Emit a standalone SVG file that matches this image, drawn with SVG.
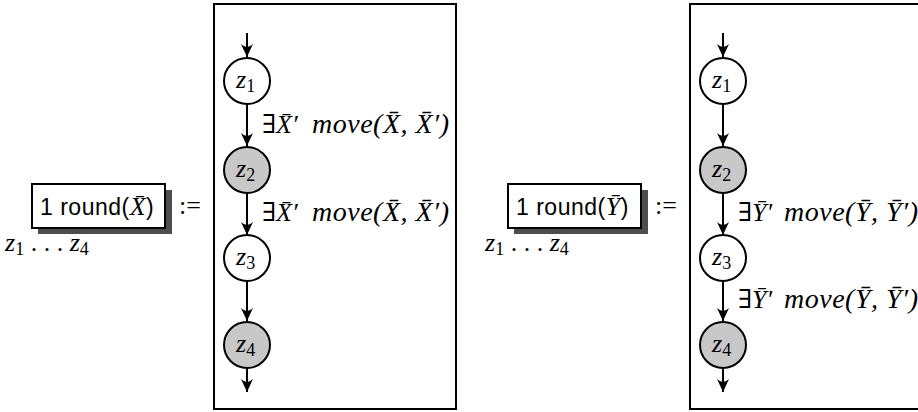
<svg xmlns="http://www.w3.org/2000/svg" width="918" height="412" viewBox="0 0 918 412">
<style>
.frame{fill:#fff;stroke:#000;stroke-width:2}
.nw{fill:#fff;stroke:#000;stroke-width:2}
.ng{fill:#c8c8c8;stroke:#000;stroke-width:2}
.e{stroke:#000;stroke-width:2;fill:none;marker-end:url(#ah)}
.m{font-family:"Liberation Serif","DejaVu Serif",serif;font-style:italic;font-size:26px}
.mv{font-size:28px;letter-spacing:0.5px}
.r{font-family:"Liberation Serif","DejaVu Serif",serif;font-style:normal}
.sub{font-family:"Liberation Serif",serif;font-style:normal;font-size:18px}
.sans{font-family:"Liberation Sans","DejaVu Sans",sans-serif;font-size:23px;letter-spacing:0.5px}
.shadow{fill:#4d4d4d}
.lbox{fill:#fff;stroke:#000;stroke-width:2}
</style>
<defs>
<marker id="ah" viewBox="-14 -7 15 14" refX="0" refY="0" markerWidth="15" markerHeight="14" markerUnits="userSpaceOnUse" orient="auto">
<path d="M0,0 L-13,-6 Q-7,0 -13,6 Z" fill="#000"/>
</marker>
</defs>

<g id="frame-left"><rect class="frame" x="214" y="4" width="242" height="405"/></g>
<g id="frame-right"><rect class="frame" x="690" y="4" width="240" height="405"/></g>

<g id="def-left">
<rect class="shadow" x="38" y="190" width="134" height="44"/>
<rect class="lbox" x="32" y="184" width="133" height="44"/>
<text class="sans" x="40" y="215">1 round(<tspan class="m">X̄</tspan>)</text>
<text class="r" x="179" y="214" font-size="26">:=</text>
<text class="m" x="5" y="251">z<tspan class="sub" dy="4">1</tspan><tspan class="r" dy="-4"> . . . </tspan>z<tspan class="sub" dy="4">4</tspan></text>
</g>
<g id="def-right">
<rect class="shadow" x="514" y="190" width="134" height="44"/>
<rect class="lbox" x="508" y="184" width="133" height="44"/>
<text class="sans" x="516" y="215">1 round(<tspan class="m">Ȳ</tspan>)</text>
<text class="r" x="655" y="214" font-size="26">:=</text>
<text class="m" x="485" y="251">z<tspan class="sub" dy="4">1</tspan><tspan class="r" dy="-4"> . . . </tspan>z<tspan class="sub" dy="4">4</tspan></text>
</g>

<g id="connectors">
<line class="e" x1="247" y1="33" x2="247" y2="57"/>
<line class="e" x1="247" y1="104" x2="247" y2="146"/>
<line class="e" x1="247" y1="194" x2="247" y2="235"/>
<line class="e" x1="247" y1="282" x2="247" y2="321"/>
<line class="e" x1="247" y1="369" x2="247" y2="392"/>
<line class="e" x1="723" y1="33" x2="723" y2="57"/>
<line class="e" x1="723" y1="104" x2="723" y2="146"/>
<line class="e" x1="723" y1="194" x2="723" y2="235"/>
<line class="e" x1="723" y1="282" x2="723" y2="321"/>
<line class="e" x1="723" y1="369" x2="723" y2="392"/>
<g id="lbl-L1"><text class="m" x="262" y="133"><tspan class="r">∃</tspan>X̄′</text><text class="m mv" x="312" y="133">move(X̄, X̄′)</text></g>
<g id="lbl-L2"><text class="m" x="262" y="221"><tspan class="r">∃</tspan>X̄′</text><text class="m mv" x="312" y="221">move(X̄, X̄′)</text></g>
<g id="lbl-R1"><text class="m" x="738" y="221"><tspan class="r">∃</tspan>Ȳ′</text><text class="m mv" x="784" y="221">move(Ȳ, Ȳ′)</text></g>
<g id="lbl-R2"><text class="m" x="738" y="308"><tspan class="r">∃</tspan>Ȳ′</text><text class="m mv" x="784" y="308">move(Ȳ, Ȳ′)</text></g>
</g>

<g id="L-z1"><circle class="nw" cx="247" cy="81" r="23"/><text class="m" x="236" y="88">z<tspan class="sub" dy="4">1</tspan></text></g>
<g id="L-z2"><circle class="ng" cx="247" cy="170" r="23"/><text class="m" x="236" y="177">z<tspan class="sub" dy="4">2</tspan></text></g>
<g id="L-z3"><circle class="nw" cx="247" cy="258" r="23"/><text class="m" x="236" y="265">z<tspan class="sub" dy="4">3</tspan></text></g>
<g id="L-z4"><circle class="ng" cx="247" cy="345" r="23"/><text class="m" x="236" y="352">z<tspan class="sub" dy="4">4</tspan></text></g>

<g id="R-z1"><circle class="nw" cx="723" cy="81" r="23"/><text class="m" x="712" y="88">z<tspan class="sub" dy="4">1</tspan></text></g>
<g id="R-z2"><circle class="ng" cx="723" cy="170" r="23"/><text class="m" x="712" y="177">z<tspan class="sub" dy="4">2</tspan></text></g>
<g id="R-z3"><circle class="nw" cx="723" cy="258" r="23"/><text class="m" x="712" y="265">z<tspan class="sub" dy="4">3</tspan></text></g>
<g id="R-z4"><circle class="ng" cx="723" cy="345" r="23"/><text class="m" x="712" y="352">z<tspan class="sub" dy="4">4</tspan></text></g>
</svg>
